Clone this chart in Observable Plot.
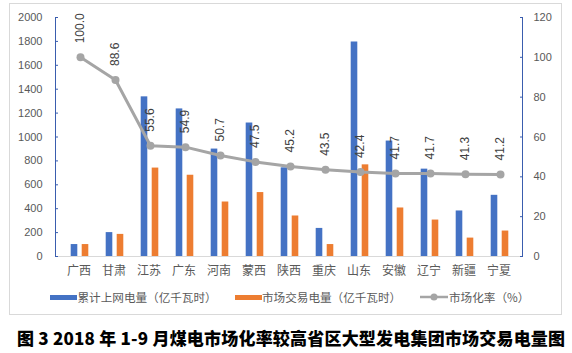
<!DOCTYPE html>
<html><head><meta charset="utf-8">
<script src="https://cdn.jsdelivr.net/npm/d3@7"></script>
<script src="https://cdn.jsdelivr.net/npm/@observablehq/plot@0.6"></script>
<style>
body{margin:0;background:#fff;font-family:"Liberation Sans","Noto Sans CJK SC",sans-serif;}
#wrap{position:relative;width:572px;height:353px;overflow:hidden;}
#frame{position:absolute;left:9px;top:3px;width:553px;height:312px;border:1px solid #d9d9d9;box-sizing:border-box;}
#chart{position:absolute;left:0;top:0;}
.lg{position:absolute;top:289px;font-size:11.6px;color:#595959;font-family:"Noto Sans CJK SC",sans-serif;white-space:nowrap;line-height:16px;}
.sw{position:absolute;height:5px;top:294.5px;}
#title{position:absolute;left:17px;top:327px;font-size:17px;font-weight:900;color:#000;font-family:"Noto Sans CJK SC",sans-serif;white-space:nowrap;line-height:22px;letter-spacing:0.2px;}
</style></head>
<body><div id="wrap">
<div id="frame"></div>
<div id="chart"></div>
<div class="sw" style="left:50px;width:27px;background:#4472C4"></div>
<div class="lg" style="left:77.5px">累计上网电量（亿千瓦时）</div>
<div class="sw" style="left:235px;width:27px;background:#ED7D31"></div>
<div class="lg" style="left:262px">市场交易电量（亿千瓦时）</div>
<svg style="position:absolute;left:420px;top:290px" width="29" height="14"><line x1="0" x2="28" y1="7" y2="7" stroke="#A5A5A5" stroke-width="2.5"/><circle cx="14" cy="7" r="3.5" fill="#A5A5A5"/></svg>
<div class="lg" style="left:449px">市场化率（%）</div>
<div id="title">图 3 2018 年 1-9 月煤电市场化率较高省区大型发电集团市场交易电量图</div>
</div>
<script>
const categories = ["广西","甘肃","江苏","广东","河南","蒙西","陕西","重庆","山东","安徽","辽宁","新疆","宁夏"];
const totalOnGrid = [100,200,1336,1235,899,1117,742,235,1795,966,731,381,512];
const marketTrade = [100,185,740,680,456,535,339,100,767,406,305,154,213];
const marketRate = [100.0,88.6,55.6,54.9,50.7,47.5,45.2,43.5,42.4,41.7,41.7,41.3,41.2];
const leftTicks = [0,200,400,600,800,1000,1200,1400,1600,1800,2000];
const rightTicks = [0,20,40,60,80,100,120];
const leftMax = 2000, rightMax = 120;
const k = leftMax / rightMax;

const data = categories.map((c,i)=>({cat:c,total:totalOnGrid[i],trade:marketTrade[i],rate:marketRate[i]}));

const plot = Plot.plot({
  width: 572, height: 290,
  marginLeft: 55, marginRight: 50, marginTop: 17, marginBottom: 34,
  style: {fontFamily: '"Liberation Sans","Noto Sans CJK SC",sans-serif', fontSize: "11px", color: "#595959", background: "transparent"},
  x: {type: "band", domain: categories, padding: 0, label: null},
  y: {domain: [0, leftMax], label: null},
  marks: [
    Plot.ruleY([0], {stroke: "#d9d9d9", strokeWidth: 1}),
    Plot.barY(data, {x: "cat", y: "total", fill: "#4472C4", insetLeft: 9.7, insetRight: 18.7}),
    Plot.barY(data, {x: "cat", y: "trade", fill: "#ED7D31", insetLeft: 20.7, insetRight: 7.7}),
    Plot.lineY(data, {x: "cat", y: d => d.rate * k, stroke: "#A5A5A5", strokeWidth: 3, dx: 1.5}),
    Plot.dot(data, {x: "cat", y: d => d.rate * k, r: 4, fill: "#A5A5A5", dx: 1.5}),
    Plot.text(data, {x: "cat", y: d => d.rate * k, text: d => d.rate.toFixed(1), rotate: -90, textAnchor: "start", dy: -14, dx: 1.5, fill: "#404040", fontSize: 12}),
    Plot.frame({anchor: "left", stroke: "#3A5DAE"}),
    Plot.frame({anchor: "right", stroke: "#3A5DAE"}),
    Plot.axisY({ticks: leftTicks, tickSize: -3, tickPadding: 16, stroke: "#3A5DAE", fill: "#595959", tickFormat: d => String(d), fontSize: 11, label: null}),
    Plot.axisY({anchor: "right", ticks: rightTicks.map(v => v * k), tickSize: -3, tickPadding: 14, stroke: "#3A5DAE", fill: "#595959", tickFormat: d => String(Math.round(d / k)), fontSize: 11, label: null}),
    Plot.axisX({tickSize: 0, tickPadding: 10, fill: "#595959", fontSize: 12, fontFamily: '"Noto Sans CJK SC",sans-serif', label: null})
  ]
});
document.getElementById("chart").appendChild(plot);
</script>
</body></html>
